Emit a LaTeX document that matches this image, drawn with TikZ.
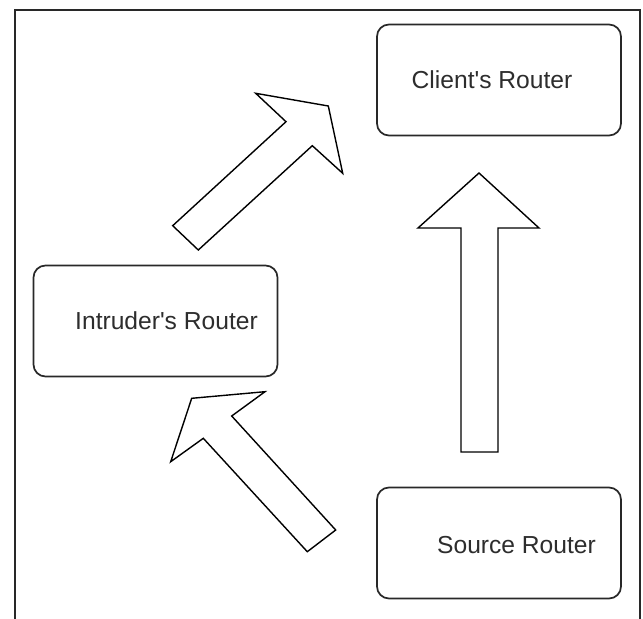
\documentclass[tikz,border=0pt]{standalone}
\usepackage{fontspec}
\setmainfont{Liberation Sans}
\usetikzlibrary{calc,positioning}
\definecolor{EdgeGray}{RGB}{40,40,40}
\definecolor{TextGray}{RGB}{45,45,45}
\tikzset{
  router/.style={draw=EdgeGray,line width=1.7bp,rounded corners=12bp,
    minimum width=244bp,minimum height=111bp,inner sep=0pt,fill=white},
  rlabel/.style={font=\fontsize{24.7}{29}\selectfont,text=TextGray,inner sep=0pt},
  blockarrow/.style={draw=black,line width=1.4bp,line join=miter,fill=white}
}
\begin{document}
\begin{tikzpicture}[x=1bp,y=-1bp]
      \useasboundingbox (0,0) rectangle (643,619);
      \draw[line width=2bp,EdgeGray] (14.5,619)--(14.5,10)--(640,10)--(640,619);
      \node[router,label={[rlabel,xshift=-7bp]center:Client\textquotesingle s Router}]
        (client) at (499,80) {};
      \node[router,label={[rlabel,xshift=11bp]center:Intruder\textquotesingle s Router}]
        (intruder) at (155.5,321) {};
      \node[router,label={[rlabel,xshift=17.5bp,yshift=-2bp]center:Source Router}]
        (source) at (499,543) {};
      % source to client
      \draw[blockarrow] (461,452)--(461,228)--(418,228)--(479,173)
        --(539,228)--(498,228)--(498,452)--cycle;
      % intruder to client
      \draw[blockarrow] (172.7,225.7)--(286,121.7)--(255.7,93.3)--(328.3,106)
        --(342.7,173.3)--(312.3,145.7)--(198.3,250)--cycle;
      % source to intruder
      \draw[blockarrow] (307.3,551.7)--(203.3,438.3)--(170.7,461.7)--(191.7,398.3)
        --(265,391.7)--(231.7,416)--(335.7,530)--cycle;
    \end{tikzpicture}
\end{document}
